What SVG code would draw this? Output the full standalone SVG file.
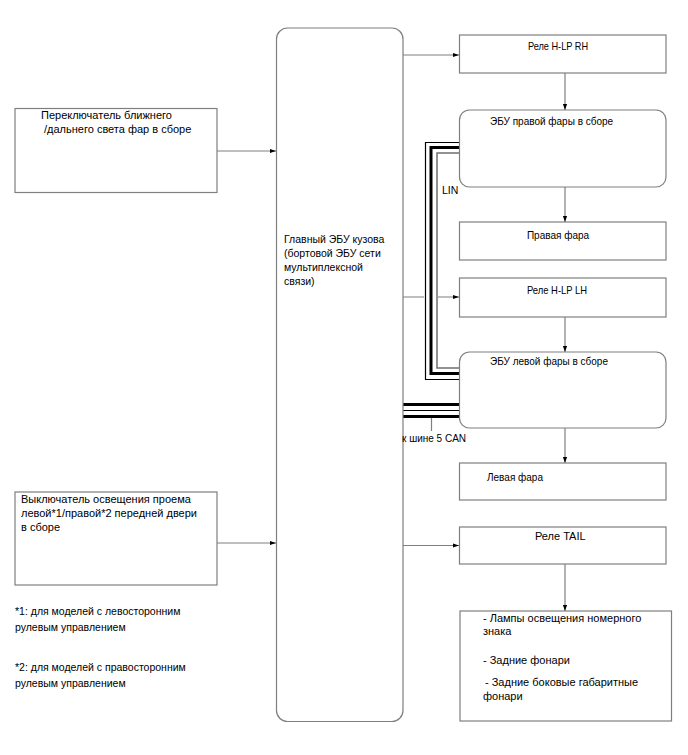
<svg xmlns="http://www.w3.org/2000/svg" width="688" height="755" viewBox="0 0 688 755">
<defs>
<style>
.box{fill:#fff;stroke:#7f7f7f;stroke-width:1.2}
.ln{fill:none;stroke:#7f7f7f;stroke-width:1.2}
.t{font-family:"Liberation Sans",Arial,sans-serif;font-size:10.5px;fill:#000}
.l{font-size:11px}
.s{font-size:10px}
</style>
<marker id="ah" viewBox="0 0 10 10" refX="10" refY="5" markerWidth="8" markerHeight="6" markerUnits="userSpaceOnUse" orient="auto">
<path d="M0,1.5 L10,5 L0,8.5 Z" fill="#000"/>
</marker>
</defs>
<rect width="688" height="755" fill="#fff"/>

<g id="connectors">
<line class="ln" x1="217" y1="151" x2="276" y2="151" marker-end="url(#ah)"/>
<line class="ln" x1="217" y1="543" x2="276" y2="543" marker-end="url(#ah)"/>
<line class="ln" x1="403" y1="55" x2="459" y2="55" marker-end="url(#ah)"/>
<line class="ln" x1="403" y1="297" x2="459" y2="297" marker-end="url(#ah)"/>
<line class="ln" x1="403" y1="545.5" x2="459" y2="545.5" marker-end="url(#ah)"/>
<line class="ln" x1="565" y1="73" x2="565" y2="110" marker-end="url(#ah)"/>
<line class="ln" x1="565" y1="187" x2="565" y2="222" marker-end="url(#ah)"/>
<line class="ln" x1="565" y1="317" x2="565" y2="352" marker-end="url(#ah)"/>
<line class="ln" x1="565" y1="428" x2="565" y2="463" marker-end="url(#ah)"/>
<line class="ln" x1="565" y1="564" x2="565" y2="611" marker-end="url(#ah)"/>
<g id="lin-bus">
<path d="M460,147.5 H431 V373.5 H460" fill="none" stroke="#fff" stroke-width="14"/>
<path d="M460,142.5 H425.5 V379.5 H460" fill="none" stroke="#000" stroke-width="1.2"/>
<path d="M460,147.5 H431 V373.5 H460" fill="none" stroke="#000" stroke-width="3"/>
<path d="M460,153 H437 V368 H460" fill="none" stroke="#6f6f6f" stroke-width="1.5"/>
</g>
<g id="can-bus">
<line x1="403" y1="404.5" x2="460" y2="404.5" stroke="#000" stroke-width="3"/>
<line x1="403" y1="410.5" x2="460" y2="410.5" stroke="#000" stroke-width="1"/>
<line x1="403" y1="416.5" x2="460" y2="416.5" stroke="#000" stroke-width="3"/>
<line class="ln" x1="431.5" y1="418" x2="431.5" y2="431"/>
</g>
</g>

<g id="main-ecu">
<rect class="box" x="276.5" y="28" width="126.5" height="693.5" rx="11"/>
<text class="t" x="284" y="243">Главный ЭБУ кузова</text>
<text class="t" x="284" y="257">(бортовой ЭБУ сети</text>
<text class="t" x="284" y="271">мультиплексной</text>
<text class="t" x="284" y="285">связи)</text>
</g>

<g id="hl-switch">
<rect class="box" x="15" y="108.5" width="202" height="84"/>
<text class="t l" x="41" y="119">Переключатель ближнего</text>
<text class="t l" x="44" y="133">/дальнего света фар в сборе</text>
</g>

<g id="door-switch">
<rect class="box" x="15" y="492" width="202" height="93"/>
<text class="t l" x="21" y="503">Выключатель освещения проема</text>
<text class="t l" x="21" y="517">левой*1/правой*2 передней двери</text>
<text class="t l" x="21" y="531">в сборе</text>
</g>

<g id="notes">
<text class="t" x="15" y="615">*1: для моделей с левосторонним</text>
<text class="t" x="15" y="631">рулевым управлением</text>
<text class="t" x="15" y="671">*2: для моделей с правосторонним</text>
<text class="t" x="15" y="687">рулевым управлением</text>
</g>

<g id="relay-rh">
<rect class="box" x="459.5" y="35" width="206.5" height="38"/>
<text class="t" x="528" y="49.5" textLength="60" lengthAdjust="spacingAndGlyphs">Реле H-LP RH</text>
</g>

<g id="ecu-rh">
<rect class="box" x="459.5" y="110" width="206.5" height="77" rx="10"/>
<text class="t s" x="490" y="125">ЭБУ правой фары в сборе</text>
</g>

<text class="t" x="442" y="194">LIN</text>

<g id="lamp-rh">
<rect class="box" x="459.5" y="222" width="206.5" height="38"/>
<text class="t s" x="558" y="239" text-anchor="middle">Правая фара</text>
</g>

<g id="relay-lh">
<rect class="box" x="459.5" y="278" width="206.5" height="39"/>
<text class="t" x="527" y="294" textLength="60" lengthAdjust="spacingAndGlyphs">Реле H-LP LH</text>
</g>

<g id="ecu-lh">
<rect class="box" x="459.5" y="352" width="206.5" height="76" rx="10"/>
<text class="t s" x="490" y="365">ЭБУ левой фары в сборе</text>
</g>

<text class="t s" x="402" y="442">к шине 5 CAN</text>

<g id="lamp-lh">
<rect class="box" x="459.5" y="463" width="206.5" height="37"/>
<text class="t s" x="487" y="481">Левая фара</text>
</g>

<g id="relay-tail">
<rect class="box" x="459.5" y="527" width="206.5" height="37"/>
<text class="t l" x="535" y="540">Реле TAIL</text>
</g>

<g id="tail-lamps">
<rect class="box" x="460" y="611" width="211.5" height="110"/>
<text class="t l" x="483" y="622">- Лампы освещения номерного</text>
<text class="t l" x="483" y="635">знака</text>
<text class="t l" x="483" y="664">- Задние фонари</text>
<text class="t l" x="485" y="686">- Задние боковые габаритные</text>
<text class="t l" x="483" y="700">фонари</text>
</g>
</svg>
